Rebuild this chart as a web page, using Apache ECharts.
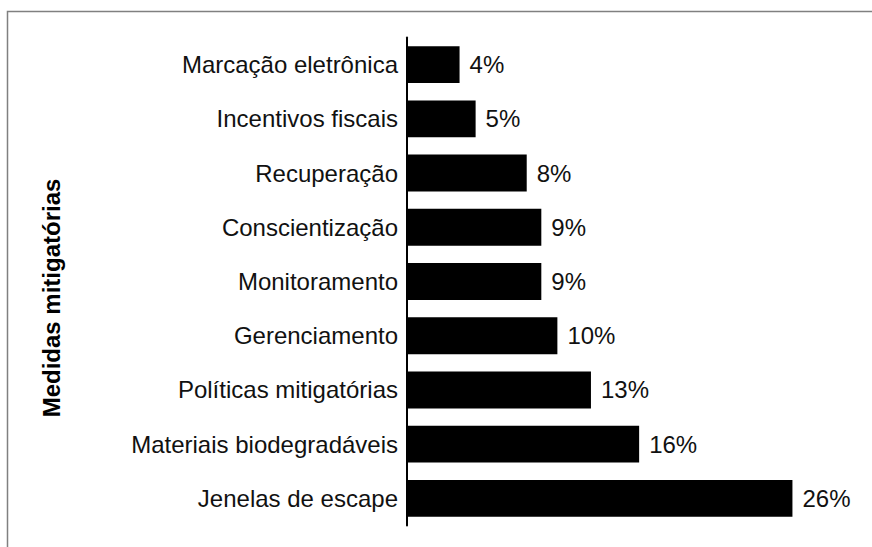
<!DOCTYPE html>
<html>
<head>
<meta charset="utf-8">
<script src="https://cdn.jsdelivr.net/npm/echarts@6/dist/echarts.min.js"></script>
<style>
  html, body { margin: 0; padding: 0; background: #fff; }
  #chart { width: 872px; height: 547px; }
</style>
</head>
<body>
<div id="chart"></div>
<script>
// categories top to bottom
const categories = [
	'Marcação eletrônica',
	'Incentivos fiscais',
	'Recuperação',
	'Conscientização',
	'Monitoramento',
	'Gerenciamento',
	'Políticas mitigatórias',
	'Materiais biodegradáveis',
	'Jenelas de escape'
];
// share in % (labels show rounded values)
const shares = [ 3.6, 4.7, 8.2, 9.2, 9.2, 10.3, 12.6, 15.9, 26.4 ];
const axisTitle = 'Medidas mitigatórias';

const font = '"Liberation Sans", Arial, sans-serif';
const chart = echarts.init( document.getElementById( 'chart' ), null, { renderer: 'svg' } );

chart.setOption( {
	animation: false,
	backgroundColor: '#fff',
	grid: { left: 407, right: 27, top: 37.5, height: 488 },
	xAxis: {
		type: 'value',
		min: 0,
		max: 30,
		show: false
	},
	yAxis: {
		type: 'category',
		inverse: true,
		data: categories,
		axisLine: { lineStyle: { color: '#000', width: 2 } },
		axisTick: { show: false },
		axisLabel: { color: '#111', fontSize: 24, fontFamily: font, margin: 9 }
	},
	series: [ {
		type: 'bar',
		data: shares,
		barCategoryGap: '32%',
		itemStyle: { color: '#000' },
		label: {
			show: true,
			position: 'right',
			distance: 10,
			color: '#111',
			fontSize: 24,
			fontFamily: font,
			formatter: ( p ) => Math.round( p.value ) + '%'
		}
	} ],
	graphic: [
		{
			type: 'rect',
			shape: { x: 7.5, y: 11.5, width: 900, height: 600 },
			style: { fill: 'none', stroke: '#808080', lineWidth: 1.5 },
			silent: true
		},
		{
			type: 'text',
			x: 51,
			y: 298,
			rotation: Math.PI / 2,
			style: {
				text: axisTitle,
				fontSize: 24,
				fontWeight: 'bold',
				fontFamily: font,
				fill: '#000',
				textAlign: 'center',
				textVerticalAlign: 'middle'
			}
		}
	]
} );
</script>
</body>
</html>
